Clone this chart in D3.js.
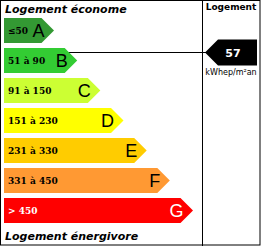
<!DOCTYPE html>
<html>
<head>
<meta charset="utf-8">
<script src="https://cdn.jsdelivr.net/npm/d3@7"></script>
<style>
  html, body { margin: 0; padding: 0; background: #fff; }
  svg { display: block; }
</style>
</head>
<body>
<svg id="chart"></svg>
<script>
const classes = ['A', 'B', 'C', 'D', 'E', 'F', 'G'];
const ranges = ['≤50', '51 à 90', '91 à 150', '151 à 230', '231 à 330', '331 à 450', '> 450'];
const lows = [0, 51, 91, 151, 231, 331, 451];
const highs = [50, 90, 150, 230, 330, 450, 600];
const colors = ['#339933', '#33cc33', '#ccff33', '#ffff00', '#ffcc00', '#ff9933', '#ff0000'];
const value = 57;
const unit = 'kWhep/m²an';

const W = 261, H = 246;
const svg = d3.select('#chart').attr('width', W).attr('height', H);

const y = d3.scaleBand().domain(classes).range([15.5, 225.5]).paddingInner(1 / 6).paddingOuter(1 / 12);
const tipX = d3.scaleLinear().domain([0, classes.length - 1]).range([54, 193]);
const tip = y.bandwidth() / 2;

// frame
svg.append('rect').attr('x', 0.5).attr('y', 0.5).attr('width', W - 1.5).attr('height', H - 1.5)
    .attr('fill', 'none').attr('stroke', '#000');
svg.append('line').attr('x1', 202.5).attr('x2', 202.5).attr('y1', 0).attr('y2', H)
    .attr('stroke', '#000');

svg.append('text').attr('x', 5).attr('y', 13)
    .attr('font-family', 'DejaVu Sans').attr('font-weight', 'bold').attr('font-style', 'italic')
    .attr('font-size', '11px').text('Logement économe');
svg.append('text').attr('x', 5).attr('y', 240)
    .attr('font-family', 'DejaVu Sans').attr('font-weight', 'bold').attr('font-style', 'italic')
    .attr('font-size', '11px').text('Logement énergivore');
svg.append('text').attr('x', 231).attr('y', 10).attr('text-anchor', 'middle')
    .attr('font-family', 'DejaVu Sans').attr('font-weight', 'bold')
    .attr('font-size', '9px').text('Logement');

// value marker line
const ci = classes.findIndex((c, i) => value >= lows[i] && value <= highs[i]);
const vy = Math.round(y(classes[ci]) + y.bandwidth() * (value - lows[ci]) / (highs[ci] - lows[ci])) + 0.5;
svg.append('line').attr('x1', tipX(ci) - 20).attr('x2', 206).attr('y1', vy).attr('y2', vy)
    .attr('stroke', '#000');

const rows = svg.selectAll('g.row')
    .data(classes)
    .enter()
    .append('g')
    .attr('class', 'row');

rows.append('path')
    .attr('d', (d, i) => {
        const y0 = y(d), y1 = y(d) + y.bandwidth(), x1 = tipX(i);
        return `M4,${y0}H${x1 - tip}L${x1},${y0 + tip}L${x1 - tip},${y1}H4Z`;
    })
    .attr('fill', (d, i) => colors[i]);

rows.append('text')
    .attr('x', 8)
    .attr('y', d => y(d) + y.bandwidth() / 2 + 3.5)
    .attr('font-family', 'DejaVu Serif')
    .attr('font-weight', 'bold')
    .attr('font-size', '9px')
    .attr('fill', (d, i) => i === classes.length - 1 ? '#fff' : '#000')
    .text((d, i) => ranges[i]);

rows.append('text')
    .attr('x', (d, i) => tipX(i) - tip + 3)
    .attr('y', d => y(d) + y.bandwidth() / 2 + 6.5)
    .attr('text-anchor', 'end')
    .attr('font-family', 'Liberation Sans')
    .attr('font-size', '18px')
    .attr('fill', (d, i) => i === classes.length - 1 ? '#fff' : '#000')
    .text(d => d);

// indicator arrow
const ah = 13;
svg.append('path')
    .attr('d', `M205,${vy}L${205 + ah},${vy - ah}H257V${vy + ah}H${205 + ah}Z`)
    .attr('fill', '#000');
svg.append('text').attr('x', 233).attr('y', vy + 4).attr('text-anchor', 'middle')
    .attr('font-family', 'DejaVu Sans').attr('font-weight', 'bold')
    .attr('font-size', '11px').attr('fill', '#fff').text(value);
svg.append('text').attr('x', 231).attr('y', 75).attr('text-anchor', 'middle')
    .attr('font-family', 'DejaVu Sans').attr('font-size', '8px').text(unit);
</script>
</body>
</html>
